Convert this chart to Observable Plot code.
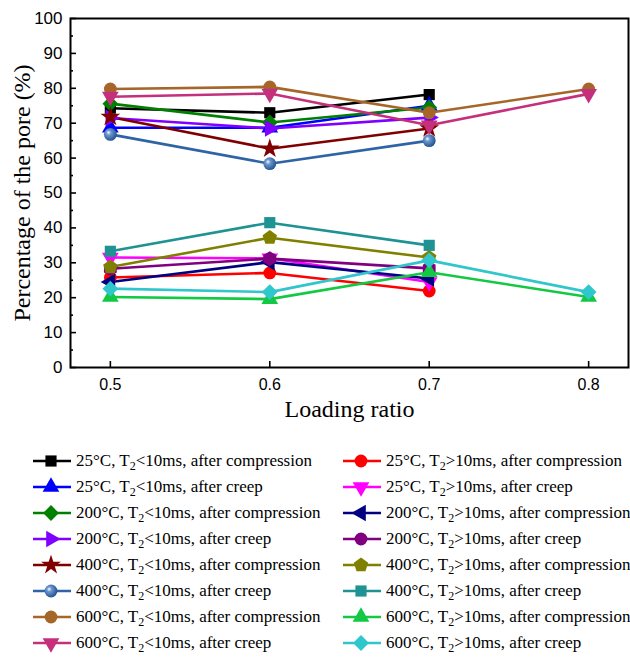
<!DOCTYPE html>
<html>
<head>
<meta charset="utf-8">
<script src="https://cdn.jsdelivr.net/npm/d3@7"></script>
<script src="https://cdn.jsdelivr.net/npm/@observablehq/plot@0.6"></script>
<style>
  body { margin: 0; background: #fff; }
  #chart { width: 630px; }
  #legend {
    display: grid;
    grid-template-columns: 310px 300px;
    grid-auto-rows: 26px;
    margin-left: 32px;
    font-family: "Liberation Serif", "Times New Roman", serif;
    font-size: 17px;
    color: #000;
  }
  .item { display: flex; align-items: center; white-space: nowrap; overflow: visible; }
  .item svg { flex: none; margin-right: 4px; }
  .item sub { font-size: 12px; vertical-align: -4px; line-height: 0; }
</style>
</head>
<body>
<div id="chart"></div>
<div id="legend"></div>
<script>
const loadingRatio = [0.5, 0.6, 0.7, 0.8];
const xTicks = [0.5, 0.6, 0.7, 0.8];
const yTicks = [0, 10, 20, 30, 40, 50, 60, 70, 80, 90, 100];
const yMinorTicks = [5, 15, 25, 35, 45, 55, 65, 75, 85, 95];

const seriesLabels = [
  "25°C, T2<10ms, after compression",
  "25°C, T2<10ms, after creep",
  "200°C, T2<10ms, after compression",
  "200°C, T2<10ms, after creep",
  "400°C, T2<10ms, after compression",
  "400°C, T2<10ms, after creep",
  "600°C, T2<10ms, after compression",
  "600°C, T2<10ms, after creep",
  "25°C, T2>10ms, after compression",
  "25°C, T2>10ms, after creep",
  "200°C, T2>10ms, after compression",
  "200°C, T2>10ms, after creep",
  "400°C, T2>10ms, after compression",
  "400°C, T2>10ms, after creep",
  "600°C, T2>10ms, after compression",
  "600°C, T2>10ms, after creep"
];

const seriesValues = [
  [74.3, 73.0, 78.2, null],
  [68.7, 68.7, 75.0, null],
  [75.6, 70.2, 74.5, null],
  [71.5, 68.5, 71.6, null],
  [71.8, 62.7, 68.5, null],
  [66.8, 58.4, 65.0, null],
  [79.8, 80.4, 73.0, 79.8],
  [77.6, 78.5, 69.4, 78.4],
  [25.8, 27.1, 21.9, null],
  [31.5, 31.3, 24.5, null],
  [24.5, 30.2, 25.5, null],
  [28.3, 31.2, 28.4, null],
  [28.8, 37.2, 31.5, null],
  [33.3, 41.5, 35.0, null],
  [20.2, 19.6, 27.3, 20.2],
  [22.6, 21.6, 30.7, 21.6]
];

const seriesColors = [
  "#000000", "#0000ff", "#008000", "#8000ff",
  "#800000", "#2e64a6", "#a6662a", "#c4307c",
  "#ff0000", "#ff00ff", "#000080", "#800080",
  "#808000", "#1f9393", "#13c943", "#2fc6cc"
];

// marker shapes: [symbol name, rotation]
const seriesShapes = [
  ["square", 0], ["triangle", 0], ["square", 45], ["triangle", 90],
  ["star", 0], ["sphere", 0], ["circle", 0], ["triangle", 180],
  ["circle", 0], ["triangle", 180], ["triangle", -90], ["hexagon", 0],
  ["pentagon", 0], ["square", 0], ["triangle", 0], ["square", 45]
];

const pentagon = {
  draw(context, size) {
    const R = Math.sqrt(size / (2.5 * Math.sin(2 * Math.PI / 5)));
    for (let k = 0; k < 5; k++) {
      const a = -Math.PI / 2 + k * 2 * Math.PI / 5;
      const px = R * Math.cos(a), py = R * Math.sin(a);
      if (k === 0) context.moveTo(px, py); else context.lineTo(px, py);
    }
    context.closePath();
  }
};

const markerSizes = {square: 6.3, triangle: 6.2, star: 6.2, sphere: 6.4, circle: 6.4, hexagon: 6.4, pentagon: 6.6};

function symbolFor(name) {
  if (name === "pentagon") return pentagon;
  if (name === "sphere") return "circle";
  return name;
}
function d3SymbolFor(name) {
  return {
    square: d3.symbolSquare, triangle: d3.symbolTriangle, star: d3.symbolStar,
    circle: d3.symbolCircle, sphere: d3.symbolCircle, hexagon: d3.symbolCircle,
    pentagon: pentagon
  }[name];
}

const rows = [];
seriesValues.forEach((vals, s) => {
  vals.forEach((v, i) => {
    if (v != null) rows.push({series: s, x: loadingRatio[i], y: v});
  });
});

const lineMarks = seriesValues.map((_, s) =>
  Plot.line(rows.filter(d => d.series === s), {
    x: "x", y: "y", stroke: seriesColors[s], strokeWidth: 2.6
  })
);
const dotMarks = seriesValues.map((_, s) => {
  const [shape, rot] = seriesShapes[s];
  return Plot.dot(rows.filter(d => d.series === s), {
    x: "x", y: "y",
    symbol: symbolFor(shape),
    rotate: rot,
    r: markerSizes[shape],
    fill: shape === "sphere" ? "url(#sphereGrad)" : seriesColors[s],
    stroke: "none"
  });
});

const serif = "'Liberation Serif', 'Times New Roman', serif";

const chart = Plot.plot({
  width: 630,
  height: 448,
  marginLeft: 70,
  marginRight: 2,
  marginTop: 18,
  marginBottom: 81,
  x: {domain: [0.475, 0.825]},
  y: {domain: [0, 100]},
  style: {fontFamily: "'Liberation Sans', Arial, sans-serif", fontSize: "16px", color: "#000", background: "#fff", overflow: "visible"},
  marks: [
    ...lineMarks,
    ...dotMarks,
    Plot.axisY({ticks: yTicks, tickSize: 0, tickPadding: 8, label: null, fontSize: 17}),
    Plot.axisY({ticks: yTicks, tickSize: -6, text: null, label: null, strokeWidth: 1.6}),
    Plot.axisY({ticks: yMinorTicks, tickSize: -3, text: null, label: null, strokeWidth: 1.6}),
    Plot.axisX({ticks: xTicks, tickSize: 0, tickPadding: 11, label: null, fontSize: 16, tickFormat: d => d.toFixed(1)}),
    Plot.axisX({ticks: xTicks, tickSize: -6, text: null, label: null, strokeWidth: 1.6}),
    Plot.frame({stroke: "#000", strokeWidth: 2}),
    Plot.text(["Loading ratio"], {frameAnchor: "bottom", dy: 42, lineAnchor: "middle", textAnchor: "middle", text: d => d, fontFamily: serif, fontSize: 24}),
    Plot.text(["Percentage of the pore (%)"], {frameAnchor: "left", dx: -48, rotate: -90, lineAnchor: "middle", textAnchor: "middle", text: d => d, fontFamily: serif, fontSize: 24})
  ]
});

const defs = d3.select(chart).insert("defs", ":first-child");
const grad = defs.append("radialGradient").attr("id", "sphereGrad").attr("cx", "40%").attr("cy", "40%").attr("r", "60%").attr("fx", "35%").attr("fy", "35%");
grad.append("stop").attr("offset", "0%").attr("stop-color", "#ffffff");
grad.append("stop").attr("offset", "30%").attr("stop-color", "#6f9ad0");
grad.append("stop").attr("offset", "100%").attr("stop-color", "#245494");

document.getElementById("chart").appendChild(chart);

// legend
const legend = d3.select("#legend");
const order = [];
for (let r = 0; r < 8; r++) { order.push(r, r + 8); }
order.forEach(s => {
  const item = legend.append("div").attr("class", "item");
  const svg = item.append("svg").attr("width", 40).attr("height", 20);
  svg.append("defs").html(
    '<radialGradient id="sphereGradL' + s + '" cx="40%" cy="40%" r="60%" fx="35%" fy="35%"><stop offset="0%" stop-color="#fff"/><stop offset="30%" stop-color="#6f9ad0"/><stop offset="100%" stop-color="#245494"/></radialGradient>');
  svg.append("line").attr("x1", 1).attr("x2", 39).attr("y1", 10).attr("y2", 10)
    .attr("stroke", seriesColors[s]).attr("stroke-width", 2.6);
  const [shape, rot] = seriesShapes[s];
  const r = markerSizes[shape];
  svg.append("path")
    .attr("d", d3.symbol(d3SymbolFor(shape), r * r * Math.PI)())
    .attr("transform", `translate(19,10) rotate(${rot})`)
    .attr("fill", shape === "sphere" ? `url(#sphereGradL${s})` : seriesColors[s]);
  const label = seriesLabels[s];
  const parts = label.split("T2");
  const span = item.append("span");
  span.append("span").text(parts[0] + "T");
  span.append("sub").text("2");
  span.append("span").text(parts[1]);
});
</script>
</body>
</html>
